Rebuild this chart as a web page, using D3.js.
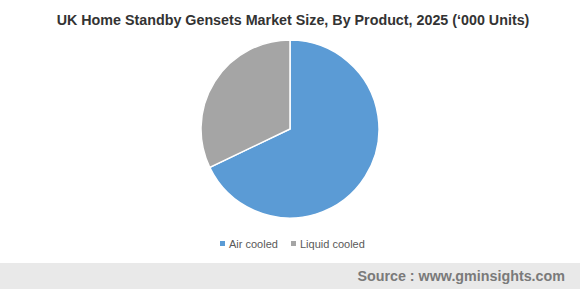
<!DOCTYPE html>
<html>
<head>
<meta charset="utf-8">
<script src="https://cdn.jsdelivr.net/npm/d3@7"></script>
<style>
  body { margin: 0; background: #fff; }
  svg { display: block; font-family: "Liberation Sans", Arial, sans-serif; }
</style>
</head>
<body>
<div id="chart"></div>
<script>
// data
const categories = ["Air cooled", "Liquid cooled"];
const values = [67.9, 32.1];
const colors = ["#5b9bd5", "#a5a5a5"];

const width = 580, height = 289;
const cx = 290, cy = 129, radius = 89;

const svg = d3.select("#chart").append("svg")
  .attr("width", width)
  .attr("height", height);

svg.append("text")
  .attr("x", 293)
  .attr("y", 25)
  .attr("text-anchor", "middle")
  .attr("font-size", 14.3)
  .attr("font-weight", "bold")
  .attr("fill", "#333")
  .text("UK Home Standby Gensets Market Size, By Product, 2025 (\u2018000 Units)");

const data = categories.map((c, i) => ({ name: c, value: values[i], color: colors[i] }));

const pie = d3.pie().sort(null).value(d => d.value);
const arc = d3.arc().innerRadius(0).outerRadius(radius);

svg.append("g")
  .attr("transform", "translate(" + cx + "," + cy + ")")
  .selectAll("path")
  .data(pie(data))
  .enter()
  .append("path")
  .attr("d", arc)
  .attr("fill", d => d.data.color)
  .attr("stroke", "#fff")
  .attr("stroke-width", 1.5);

// legend
const legendX = [220, 291];
const legend = svg.selectAll("g.legend")
  .data(data)
  .enter()
  .append("g")
  .attr("class", "legend")
  .attr("transform", (d, i) => "translate(" + legendX[i] + ",244)");
legend.append("rect")
  .attr("x", 0).attr("y", -3)
  .attr("width", 5).attr("height", 5)
  .attr("fill", d => d.color);
legend.append("text")
  .attr("x", 9).attr("y", 4)
  .attr("font-size", 11)
  .attr("fill", "#595959")
  .text(d => d.name);

// source band
svg.append("rect")
  .attr("x", 0).attr("y", 263)
  .attr("width", width).attr("height", height - 263)
  .attr("fill", "#e9e9e9");
svg.append("text")
  .attr("x", 565).attr("y", 281)
  .attr("text-anchor", "end")
  .attr("font-size", 14.3)
  .attr("font-weight", "bold")
  .attr("fill", "#7a7a7a")
  .text("Source : www.gminsights.com");
</script>
</body>
</html>
